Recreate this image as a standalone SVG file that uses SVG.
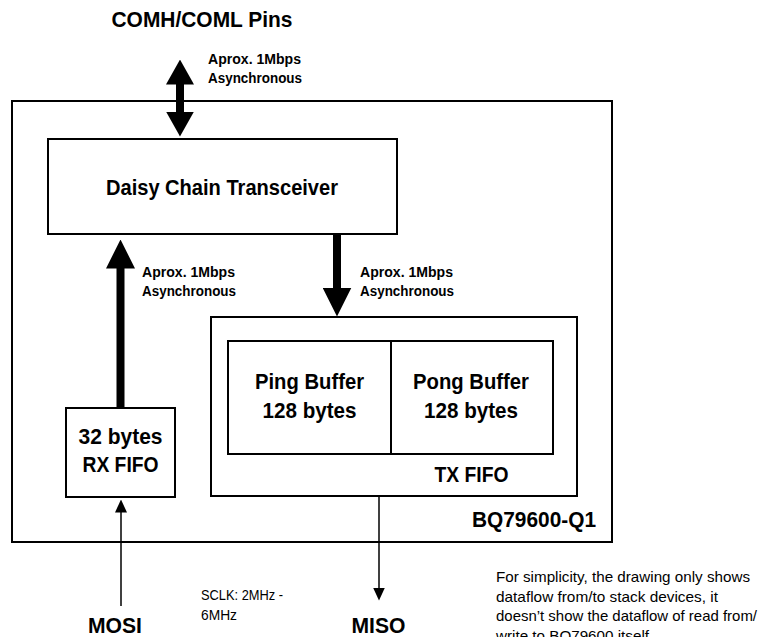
<svg xmlns="http://www.w3.org/2000/svg" width="759" height="637" viewBox="0 0 759 637">
<style>
.box{fill:#fff;stroke:#000;stroke-width:2}
.big{font-family:"Liberation Sans",Arial,sans-serif;font-weight:bold;font-size:21.5px;fill:#000}
.lbl{font-family:"Liberation Sans",Arial,sans-serif;font-weight:bold;font-size:14.5px;fill:#000}
.reg{font-family:"Liberation Sans",Arial,sans-serif;font-size:14.5px;fill:#000}
.thick{stroke:#000;stroke-width:8;fill:none}
.thin{stroke:#000;stroke-width:1.5;fill:none}
</style>
<defs>
<marker id="hL" markerUnits="userSpaceOnUse" viewBox="0 0 29 29" markerWidth="29" markerHeight="29" refX="0.5" refY="14.5" orient="auto-start-reverse"><path d="M0,0 L29,14.5 L0,29 z" fill="#000"/></marker>
<marker id="hM" markerUnits="userSpaceOnUse" viewBox="0 0 25 28" markerWidth="25" markerHeight="28" refX="0.5" refY="14" orient="auto-start-reverse"><path d="M0,0 L25,14 L0,28 z" fill="#000"/></marker>
<marker id="hS" markerUnits="userSpaceOnUse" viewBox="0 0 13 12" markerWidth="13" markerHeight="12" refX="0.5" refY="6" orient="auto"><path d="M0,0 L13,6 L0,12 z" fill="#000"/></marker>
</defs>

<text class="big" x="202" y="27" text-anchor="middle" textLength="181" lengthAdjust="spacingAndGlyphs">COMH/COML Pins</text>

<g id="bq79600">
<rect class="box" x="12" y="101" width="600" height="441"/>
<text class="big" x="596" y="527" text-anchor="end" textLength="124" lengthAdjust="spacingAndGlyphs">BQ79600-Q1</text>
</g>

<g id="daisy">
<rect class="box" x="48" y="139" width="349" height="95"/>
<text class="big" x="222" y="195" text-anchor="middle" textLength="232" lengthAdjust="spacingAndGlyphs">Daisy Chain Transceiver</text>
</g>

<g id="rxfifo">
<rect class="box" x="66" y="408" width="109" height="89"/>
<text class="big" x="120.5" y="444" text-anchor="middle" textLength="84" lengthAdjust="spacingAndGlyphs">32 bytes</text>
<text class="big" x="120.5" y="472" text-anchor="middle" textLength="76" lengthAdjust="spacingAndGlyphs">RX FIFO</text>
</g>

<g id="txfifo">
<rect class="box" x="211" y="317" width="366" height="179"/>
<text class="big" x="471.5" y="482" text-anchor="middle" textLength="74" lengthAdjust="spacingAndGlyphs">TX FIFO</text>
</g>

<g id="ping">
<rect class="box" x="228" y="341" width="163" height="113"/>
<text class="big" x="309.5" y="389" text-anchor="middle" textLength="109" lengthAdjust="spacingAndGlyphs">Ping Buffer</text>
<text class="big" x="309.5" y="418" text-anchor="middle" textLength="94" lengthAdjust="spacingAndGlyphs">128 bytes</text>
</g>

<g id="pong">
<rect class="box" x="391" y="341" width="162" height="113"/>
<text class="big" x="471" y="389" text-anchor="middle" textLength="116" lengthAdjust="spacingAndGlyphs">Pong Buffer</text>
<text class="big" x="471" y="418" text-anchor="middle" textLength="94" lengthAdjust="spacingAndGlyphs">128 bytes</text>
</g>

<g id="connectors">
<line class="thick" x1="180" y1="84" x2="180" y2="112" marker-start="url(#hM)" marker-end="url(#hM)"/>
<line class="thick" x1="120.5" y1="408" x2="120.5" y2="268" marker-end="url(#hL)"/>
<line class="thick" x1="337" y1="234" x2="337" y2="288" marker-end="url(#hL)"/>
<line class="thin" x1="121" y1="606" x2="121" y2="512" marker-end="url(#hS)"/>
<line class="thin" x1="379" y1="496" x2="379" y2="588" marker-end="url(#hS)"/>
</g>

<g id="labels">
<text class="lbl" x="208" y="64" textLength="93" lengthAdjust="spacingAndGlyphs">Aprox. 1Mbps</text>
<text class="lbl" x="208" y="83" textLength="94" lengthAdjust="spacingAndGlyphs">Asynchronous</text>
<text class="lbl" x="142" y="277" textLength="93" lengthAdjust="spacingAndGlyphs">Aprox. 1Mbps</text>
<text class="lbl" x="142" y="296" textLength="94" lengthAdjust="spacingAndGlyphs">Asynchronous</text>
<text class="lbl" x="360" y="277" textLength="93" lengthAdjust="spacingAndGlyphs">Aprox. 1Mbps</text>
<text class="lbl" x="360" y="296" textLength="94" lengthAdjust="spacingAndGlyphs">Asynchronous</text>
<text class="big" x="115" y="633" text-anchor="middle" textLength="54" lengthAdjust="spacingAndGlyphs">MOSI</text>
<text class="big" x="378.5" y="633" text-anchor="middle" textLength="54" lengthAdjust="spacingAndGlyphs">MISO</text>
<text class="reg" x="201" y="600" textLength="82" lengthAdjust="spacingAndGlyphs">SCLK: 2MHz -</text>
<text class="reg" x="201" y="619.5" textLength="36" lengthAdjust="spacingAndGlyphs">6MHz</text>
<text class="reg" x="496" y="582" textLength="254" lengthAdjust="spacingAndGlyphs">For simplicity, the drawing only shows</text>
<text class="reg" x="496" y="601.5" textLength="222" lengthAdjust="spacingAndGlyphs">dataflow from/to stack devices, it</text>
<text class="reg" x="496" y="621" textLength="261" lengthAdjust="spacingAndGlyphs">doesn’t show the dataflow of read from/</text>
<text class="reg" x="496" y="640.5" textLength="153" lengthAdjust="spacingAndGlyphs">write to BQ79600 itself</text>
</g>
</svg>
